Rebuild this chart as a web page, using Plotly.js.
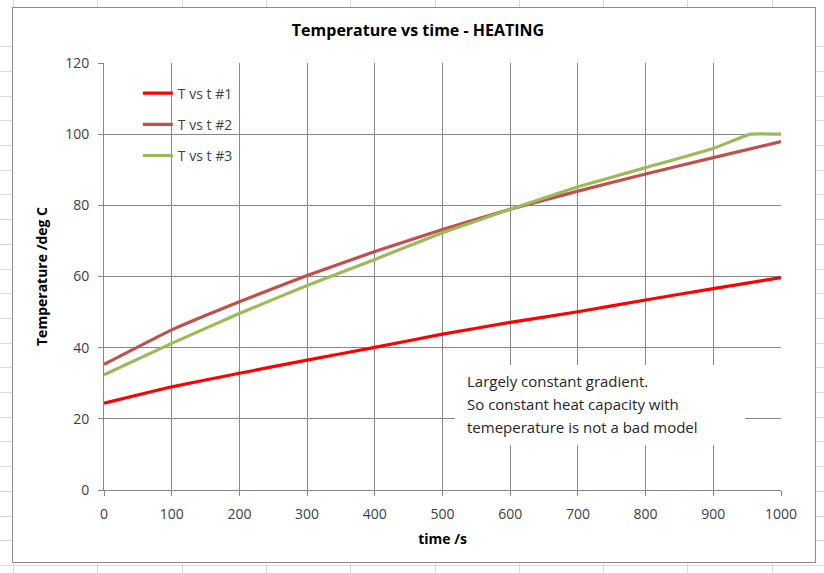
<!DOCTYPE html>
<html>
<head>
<meta charset="utf-8">
<script src="https://cdn.plot.ly/plotly-3.0.1.min.js"></script>
<style>
  html, body { margin: 0; padding: 0; }
  body {
    width: 824px; height: 573px; overflow: hidden; position: relative;
    background-color: #ffffff;
    background-image:
      repeating-linear-gradient(to right, transparent 0, transparent 13px, #d9dadb 13px, #d9dadb 14px, transparent 14px, transparent 84.3px),
      repeating-linear-gradient(to bottom, transparent 0, transparent 21.5px, #d9dadb 21.5px, #d9dadb 22.5px, transparent 22.5px, transparent 24.7px);
  }
  #frame {
    position: absolute; left: 12px; top: 7px; width: 802px; height: 554px;
    border: 1px solid #8c8c8c; background: #ffffff;
  }
  #chart { width: 802px; height: 554px; }
</style>
</head>
<body>
<div id="frame"><div id="chart"></div></div>
<script>
// ---- data ----
const seriesNames = ["T vs t #1", "T vs t #2", "T vs t #3"];
const time1 = [0, 100, 200, 300, 400, 500, 600, 700, 800, 900, 1000];
const temp1 = [24.4, 29.0, 32.8, 36.5, 40.1, 43.8, 47.1, 50.1, 53.4, 56.6, 59.7];
const time2 = [0, 100, 200, 300, 400, 500, 600, 700, 800, 900, 1000];
const temp2 = [35.3, 45.0, 52.9, 60.3, 67.0, 73.2, 78.9, 84.0, 88.8, 93.4, 97.9];
const time3 = [0, 100, 200, 300, 400, 500, 600, 700, 800, 900, 955, 1000];
const temp3 = [32.4, 41.2, 49.6, 57.5, 64.8, 72.3, 78.9, 85.2, 90.6, 96.0, 100.0, 100.0];
const noteLines = ["Largely constant gradient.", "So constant heat capacity with", "temeperature is not a bad model"];
const chartTitle = "Temperature vs time - HEATING";
const xTitle = "time /s";
const yTitle = "Temperature /deg C";

const FONT = "Open Sans, Noto Sans, sans-serif";
const colors = ["#ff0000", "#c0504d", "#9bbb59"];
const xs = [time1, time2, time3];
const ys = [temp1, temp2, temp3];

const traces = seriesNames.map((n, i) => ({
  type: "scatter", mode: "lines", name: n,
  x: xs[i], y: ys[i],
  line: { color: colors[i], width: 3.2, shape: "spline", smoothing: 0.3 },
  legendgroup: "g" + i
}));

const gridC = "#878787";
const noteY0 = 0.2563, noteDy = 23 / 427;
const annotations = noteLines.map((t, i) => ({
  xref: "paper", yref: "paper", x: 0.5334, y: noteY0 - i * noteDy,
  xanchor: "left", yanchor: "middle", align: "left", showarrow: false,
  text: t, font: { family: FONT, size: 15, color: "#262626" }
}));

const layout = {
  width: 802, height: 554,
  margin: { l: 91, r: 34, t: 55, b: 72 },
  paper_bgcolor: "rgba(0,0,0,0)", plot_bgcolor: "#ffffff",
  font: { family: FONT, color: "#404040", size: 12 },
  title: { text: "<b>" + chartTitle + "</b>", font: { family: FONT, size: 16, color: "#000000" }, x: 0.505, xanchor: "center", y: 0.96, yanchor: "middle" },
  showlegend: true,
  legend: { x: 0.05, y: 0.966, xanchor: "left", yanchor: "top", bgcolor: "rgba(255,255,255,0)",
            font: { family: FONT, size: 14, color: "#404040" }, tracegroupgap: 10 },
  xaxis: {
    range: [0, 1000], dtick: 100, tick0: 0,
    showgrid: true, gridcolor: gridC, gridwidth: 1,
    showline: true, linecolor: gridC, linewidth: 1, zeroline: false,
    ticks: "outside", ticklen: 5, tickcolor: gridC, ticklabelstandoff: 6,
    tickfont: { family: FONT, size: 14, color: "#404040" },
    title: { text: "<b>" + xTitle + "</b>", font: { family: FONT, size: 14, color: "#000000" }, standoff: 12 }
  },
  yaxis: {
    range: [0, 120], dtick: 20, tick0: 0,
    showgrid: true, gridcolor: gridC, gridwidth: 1,
    showline: true, linecolor: gridC, linewidth: 1, zeroline: false,
    ticks: "outside", ticklen: 5, tickcolor: gridC, ticklabelstandoff: 6,
    tickfont: { family: FONT, size: 14, color: "#404040" },
    title: { text: "<b>" + yTitle + "</b>", font: { family: FONT, size: 14, color: "#000000" }, standoff: 14 }
  },
  shapes: [{
    type: "rect", xref: "paper", yref: "paper", layer: "above",
    x0: 0.5185, x1: 0.9468, y0: 0.105, y1: 0.2927,
    fillcolor: "#ffffff", line: { width: 0 }
  }],
  annotations: annotations
};

Plotly.newPlot("chart", traces, layout, { displayModeBar: false, staticPlot: true });
</script>
</body>
</html>
